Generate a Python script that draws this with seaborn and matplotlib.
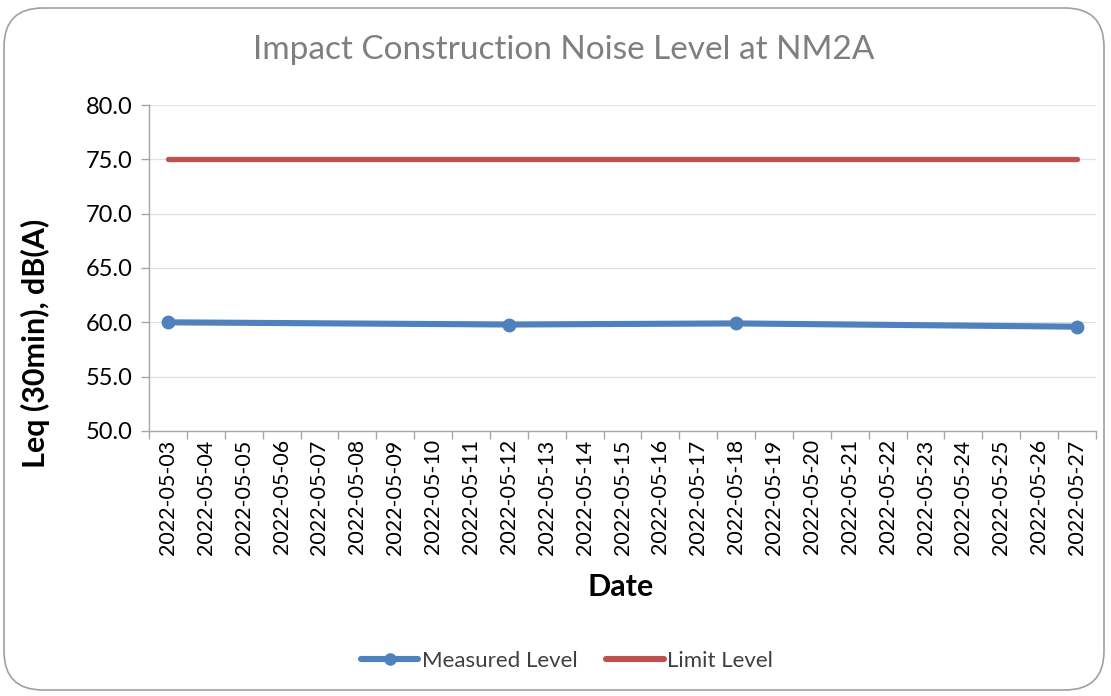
import matplotlib
matplotlib.use("Agg")
import matplotlib.pyplot as plt
from matplotlib.patches import FancyBboxPatch
from matplotlib.lines import Line2D
import seaborn as sns
import pandas as pd

dates = ["2022-05-%02d" % d for d in range(3, 28)]
measured_dates = ["2022-05-03", "2022-05-12", "2022-05-18", "2022-05-27"]
measured_values = [60.0, 59.8, 59.9, 59.6]
limit_value = 75.0
title = "Impact Construction Noise Level at NM2A"
ylabel = "Leq (30min), dB(A)"
xlabel = "Date"

sns.set_theme(style="white")
plt.rcParams['font.family'] = ['Lato', 'DejaVu Sans']

BLUE = "#4f81bd"
RED = "#c0504d"
GRID = "#e0e0e0"
AX = "#a6a6a6"

fig = plt.figure(figsize=(11.11, 6.96), dpi=100)
W, H = 1111, 696
ax = fig.add_axes([149 / W, 1 - 431 / H, (1096 - 149) / W, (431 - 105) / H])

df_meas = pd.DataFrame({"x": [dates.index(d) for d in measured_dates], "y": measured_values})
df_lim = pd.DataFrame({"x": list(range(len(dates))), "y": [limit_value] * len(dates)})

sns.lineplot(data=df_lim, x="x", y="y", ax=ax, color=RED, linewidth=3.8, zorder=3)
sns.lineplot(data=df_meas, x="x", y="y", ax=ax, color=BLUE, linewidth=4.4, marker="o",
             markersize=10, markeredgewidth=0, zorder=4)

ax.set_xlim(-0.5, len(dates) - 0.5)
ax.set_ylim(50, 80)
ax.set_yticks([50, 55, 60, 65, 70, 75, 80])
ax.set_yticklabels([f"{v:.1f}" for v in [50, 55, 60, 65, 70, 75, 80]], fontsize=17, color="#000000")
ax.set_xticks(range(len(dates)))
ax.set_xticklabels(dates, rotation=90, fontsize=15.5, color="#000000")
ax.set_xticks([i - 0.5 for i in range(len(dates) + 1)], minor=True)
ax.tick_params(axis="x", which="major", length=0, pad=6)
ax.tick_params(axis="x", which="minor", length=6, color=AX, width=1, direction="out", bottom=True)
ax.tick_params(axis="y", which="major", length=6, color=AX, width=1, direction="out", left=True, pad=6)

ax.grid(axis="y", color=GRID, linewidth=0.9)
ax.set_axisbelow(True)
for s in ["top", "right"]:
    ax.spines[s].set_visible(False)
for s in ["left", "bottom"]:
    ax.spines[s].set_color(AX)
    ax.spines[s].set_linewidth(1)

ax.set_xlabel(xlabel, fontsize=22, fontweight="bold", color="#000000")
ax.set_ylabel(ylabel, fontsize=22, fontweight="bold", color="#000000")
ax.xaxis.set_label_coords((621 - 149) / 947, (431 - 587) / 326)
ax.yaxis.set_label_coords((35 - 149) / 947, (431 - 343) / 326)
ax.xaxis.label.set_va("center")
ax.yaxis.label.set_va("center")

fig.text(564 / W, 1 - 50 / H, title, ha="center", va="center", fontsize=24, color="#7f7f7f")

handles = [Line2D([0], [0], color=BLUE, linewidth=4.4, marker="o", markersize=9, markeredgewidth=0),
           Line2D([0], [0], color=RED, linewidth=4.4)]
fig.legend(handles, ["Measured Level", "Limit Level"], loc="center", bbox_to_anchor=(567 / W, 1 - 661 / H),
           ncol=2, frameon=False, fontsize=16, handlelength=2.6, columnspacing=1.3, handletextpad=0.15,
           labelcolor="#404040")

border = FancyBboxPatch((4 / W, 6 / H), (1104 - 4) / W, (688 - 6) / H,
                        boxstyle="round,pad=0,rounding_size=0.035", transform=fig.transFigure,
                        facecolor="none", edgecolor="#a0a0a0", linewidth=1.2, mutation_aspect=W / H)
fig.patches.append(border)

fig.savefig("out.png", dpi=100, facecolor="white")
